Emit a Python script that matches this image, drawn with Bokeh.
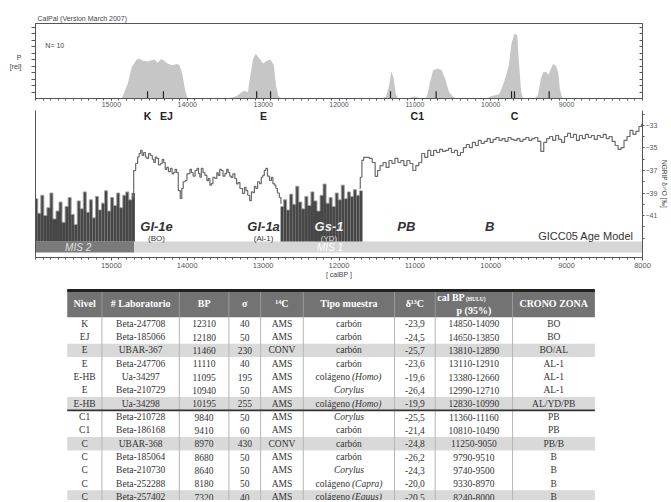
from bokeh.plotting import figure
from bokeh.models import Range1d, FixedTicker, LinearAxis
from bokeh.layouts import column
from bokeh.embed import file_html
from bokeh.resources import INLINE
from bokeh.core.properties import value

SANS = "Liberation Sans"
SERIF = "Liberation Serif"
AX = "#555555"

# ---------------- CalPal summed probability (top panel) ----------------
cal_age = [14900, 14863, 14784, 14732, 14667, 14628, 14580, 14523, 14470, 14432, 14392, 14350, 14327,
           14262, 14196, 14144, 14105, 14066, 14026, 14000, 13980,
           13460, 13350, 13255, 13200, 13170, 13130, 13098, 13060, 13000, 12950, 12905, 12860, 12830,
           12800, 12770,
           11430, 11380, 11340, 11310, 11280, 11250, 11220,
           11080, 11040, 10990, 10950, 10910,
           10880, 10840, 10800, 10760, 10700, 10650, 10600, 10550, 10500, 10460,
           10060, 9988, 9900, 9883, 9831, 9766, 9726, 9687, 9650, 9630, 9600, 9580, 9560,
           9420, 9380, 9340, 9310, 9270, 9240, 9210, 9180, 9140, 9110, 9090, 9060, 9030]
cal_p = [0.0, 0.0, 0.23, 0.48, 0.60, 0.61, 0.58, 0.57, 0.59, 0.60, 0.55, 0.60, 0.60,
         0.54, 0.51, 0.53, 0.52, 0.38, 0.12, 0.02, 0.0,
         0.0, 0.04, 0.12, 0.10, 0.35, 0.62, 0.69, 0.63, 0.54, 0.58, 0.60, 0.52, 0.20,
         0.04, 0.0,
         0.0, 0.03, 0.20, 0.41, 0.32, 0.06, 0.0,
         0.0, 0.02, 0.03, 0.01, 0.0,
         0.0, 0.03, 0.25, 0.43, 0.46, 0.44, 0.30, 0.10, 0.03, 0.0,
         0.0, 0.04, 0.06, 0.08, 0.23, 0.48, 0.85, 1.0, 0.97, 0.58, 0.12, 0.02, 0.0,
         0.0, 0.05, 0.30, 0.40, 0.41, 0.36, 0.45, 0.53, 0.50, 0.40, 0.15, 0.02, 0.0]
median_age = [14523, 14314, 13085, 12902, 11321, 10720, 9726, 9687, 9230]
level_labels = ["K", "EJ", "E", "C1", "C"]
level_age = [14523, 14275, 12994, 10968, 9687]
p_axis_ticks = [0.63, 0.49]
p_axis_labels = ["P", "[rel]"]

# ---------------- NGRIP d18O (lower panel) ----------------
gs2_d18o = [-39.5, -40.8, -39.2, -41.0, -40.3, -39.0, -41.3, -40.6, -39.8, -41.6, -40.2, -39.4,
            -40.9, -41.8, -39.7, -40.4, -38.9, -40.7, -39.6, -41.2, -39.3, -40.5, -39.9, -38.8,
            -40.6, -39.4, -40.1, -39.0, -40.3, -39.2, -38.9, -39.6, -39.0]
gs2_age = list(range(15990, 14700, -40))
yd_d18o = [-40.2, -39.6, -40.5, -39.1, -40.0, -38.4, -39.8, -40.4, -39.3, -40.1, -38.9, -39.7,
           -40.6, -39.2, -38.2, -39.9, -39.4, -40.2, -39.0, -39.6, -38.3, -39.5, -38.9, -39.3,
           -38.7, -39.2, -38.8]
yd_age = list(range(12750, 11700, -40))

gi1_age = [14719, 14693, 14667, 14641, 14628, 14601, 14588, 14562, 14540, 14523, 14497, 14471,
           14450, 14432, 14410, 14392, 14365, 14340, 14320, 14301, 14280, 14262, 14235, 14209,
           14190, 14170, 14150, 14131, 14105, 14079, 14066, 14040, 14013, 13995, 13974, 13955,
           13935, 13910, 13883, 13860, 13843, 13825, 13804, 13780, 13752, 13730, 13713, 13690,
           13673, 13650, 13621, 13600, 13582, 13560, 13543, 13515, 13490, 13470, 13451, 13430,
           13412, 13385, 13360, 13340, 13321, 13290, 13255, 13235, 13216, 13190, 13164, 13145,
           13125, 13105, 13085, 13060, 13033, 13015, 12994, 12975, 12955, 12930, 12902, 12880,
           12863, 12840, 12824, 12800, 12772, 12759]
gi1_d18o = [-39.4, -37.0, -36.38, -35.8, -35.49, -35.22, -35.67, -35.4, -35.8, -35.93, -35.5, -35.67,
            -36.0, -36.29, -35.8, -35.93, -36.5, -36.38, -36.0, -36.29, -36.9, -36.73, -37.1, -36.82,
            -37.3, -37.18, -36.9, -37.18, -38.78, -39.49, -38.6, -38.0, -37.89, -37.3, -37.27, -36.9,
            -37.18, -37.5, -37.0, -36.8, -37.27, -37.6, -36.82, -37.2, -37.44, -37.9, -37.71, -38.3,
            -38.16, -37.6, -37.71, -37.2, -37.44, -36.9, -37.0, -37.5, -37.27, -36.9, -37.18, -37.5,
            -37.62, -37.3, -37.71, -38.2, -38.07, -38.6, -39.04, -38.5, -38.78, -39.2, -39.67, -38.9,
            -38.96, -38.4, -38.6, -38.0, -38.16, -37.6, -37.44, -37.0, -36.82, -37.5, -37.89, -37.6,
            -38.16, -38.3, -38.6, -39.0, -39.4, -39.93]

ho_age = [11730, 11709, 11687, 11665, 11621, 11582, 11543, 11504, 11478, 11439, 11399, 11360,
          11321, 11282, 11243, 11203, 11164, 11125, 11086, 11046, 11007, 10968, 10929, 10890,
          10850, 10811, 10772, 10733, 10694, 10654, 10615, 10576, 10537, 10498, 10458, 10419,
          10380, 10341, 10302, 10262, 10223, 10184, 10145, 10106, 10066, 10027, 9988, 9949,
          9910, 9870, 9831, 9792, 9753, 9713, 9674, 9635, 9596, 9556, 9517, 9478, 9439, 9400,
          9360, 9321, 9282, 9243, 9204, 9164, 9125, 9086, 9047, 9008, 8968, 8929, 8890, 8851,
          8812, 8772, 8733, 8694, 8655, 8616, 8576, 8537, 8498, 8459, 8420, 8380, 8341, 8302,
          8263, 8224, 8184, 8145, 8106, 8067, 8027, 8000]
ho_d18o = [-38.6, -37.6, -36.1, -35.84, -35.84, -35.93, -36.29, -37.53, -37.0, -36.56, -36.29, -36.73,
           -36.11, -36.38, -35.93, -36.29, -36.11, -36.56, -36.11, -36.38, -37.0, -36.56, -36.29, -35.49,
           -35.84, -35.22, -35.67, -35.22, -35.4, -35.13, -35.31, -35.22, -35.04, -35.4, -35.22, -35.67,
           -35.4, -34.96, -34.69, -34.96, -34.51, -34.78, -34.33, -34.6, -34.42, -34.16, -34.51, -34.24,
           -34.07, -34.33, -34.16, -34.42, -34.07, -34.24, -34.33, -34.16, -34.42, -34.24, -34.07, -34.33,
           -34.16, -34.07, -34.42, -35.31, -34.51, -34.16, -33.98, -34.33, -33.89, -34.24, -34.51, -33.98,
           -33.71, -34.07, -33.8, -34.33, -33.89, -34.16, -33.8, -34.07, -33.89, -34.24, -33.89, -34.07,
           -33.8, -34.16, -33.98, -34.42, -34.78, -35.13, -34.96, -34.33, -33.98, -33.44, -33.8, -33.53,
           -33.09, -32.91]

mis_label = ["MIS 2", "MIS 1"]
mis_from = [16000, 14700]
mis_to = [14700, 8000]
mis_label_age = [15438, 12118]

period_label = ["GI-1e", "GI-1a", "Gs-1", "PB", "B"]
period_sub = ["(BO)", "(Al-1)", "(YD)"]
period_age = [14405, 12994, 12131, 11112, 10014]

cal_ticks_top = [15000, 14000, 13000, 12000, 11000, 10000, 9000]
cal_ticks = [15000, 14000, 13000, 12000, 11000, 10000, 9000, 8000]
d18o_ticks = [-33, -35, -37, -39, -41]

# ---------------- Table ----------------
t_nivel = ["K", "EJ", "E", "E", "E-HB", "E", "E-HB", "C1", "C1", "C", "C", "C", "C", "C"]
t_lab = ["Beta-247708", "Beta-185066", "UBAR-367", "Beta-247706", "Ua-34297", "Beta-210729",
         "Ua-34298", "Beta-210728", "Beta-186168", "UBAR-368", "Beta-185064", "Beta-210730",
         "Beta-252288", "Beta-257402"]
t_bp = ["12310", "12180", "11460", "11110", "11095", "10940", "10195", "9840", "9410", "8970",
        "8680", "8640", "8180", "7320"]
t_sigma = ["40", "50", "230", "40", "195", "50", "255", "50", "60", "430", "50", "50", "50", "40"]
t_c14 = ["AMS", "AMS", "CONV", "AMS", "AMS", "AMS", "AMS", "AMS", "AMS", "CONV", "AMS", "AMS", "AMS", "AMS"]
t_tipo = ["carbón", "carbón", "carbón", "carbón", "colágeno", "", "colágeno", "", "carbón", "carbón",
          "carbón", "", "colágeno", "colágeno"]
t_tipo_it = ["", "", "", "", "(Homo)", "Corylus", "(Homo)", "Corylus", "", "", "", "Corylus",
             "(Capra)", "(Equus)"]
t_d13c = ["-23,9", "-24,5", "-25,7", "-23,6", "-19,6", "-26,4", "-19,9", "-25,5", "-21,4", "-24,8",
          "-26,2", "-24,3", "-20,0", "-20,5"]
t_cal = ["14850-14090", "14650-13850", "13810-12890", "13110-12910", "13380-12660", "12990-12710",
         "12830-10990", "11360-11160", "10810-10490", "11250-9050", "9790-9510", "9740-9500",
         "9330-8970", "8240-8000"]
t_crono = ["BO", "BO", "BO/AL", "AL-1", "AL-1", "AL-1", "AL/YD/PB", "PB", "PB", "PB/B", "B", "B", "B", "B"]
t_shaded = [2, 6, 9, 13]
t_headers = ["Nivel", "# Laboratorio", "BP", "σ", "¹⁴C", "Tipo muestra", "δ¹³C", "", "CRONO ZONA"]

W = 671
xr = Range1d(16000, 8000)
minor_years = list(range(8000, 16001, 100))
p_minor = [0.1, 0.2, 0.3, 0.4, 0.5, 0.6, 0.7, 0.8, 0.9, 1.0, 1.1]


def style_axis(ax, size="7.5px"):
    ax.axis_line_color = AX
    ax.major_tick_line_color = AX
    ax.minor_tick_line_color = AX
    ax.major_label_text_color = "#555555"
    ax.major_label_text_font = SANS
    ax.major_label_text_font_size = size


# ===================== top panel =====================
pa = figure(width=W, height=110, x_range=xr, y_range=Range1d(0, 1.154),
            title="CalPal (Version March 2007)",
            output_backend="svg", toolbar_location=None,
            min_border_left=35, min_border_right=24, min_border_top=23, min_border_bottom=12)
pa.grid.visible = False
pa.outline_line_color = AX
pa.title.text_font = SANS
pa.title.text_font_size = "7px"
pa.title.text_font_style = "normal"
pa.title.text_color = "#444444"
pa.title.offset = 2
pa.title.standoff = 4

xa = pa.xaxis[0]
style_axis(xa, "7px")
xa.ticker = FixedTicker(ticks=cal_ticks_top, minor_ticks=minor_years)
xa.major_tick_out = 2
xa.major_tick_in = 0
xa.minor_tick_out = 2
xa.minor_tick_in = 0
xa.major_label_standoff = 1

ya = pa.yaxis[0]
style_axis(ya, "7px")
ya.major_label_text_color = "#444444"
ya.ticker = FixedTicker(ticks=p_axis_ticks, minor_ticks=p_minor)
ya.major_label_overrides = {t: l for t, l in zip(p_axis_ticks, p_axis_labels)}
ya.major_label_standoff = 10
ya.major_tick_out = 0
ya.major_tick_in = 0
ya.minor_tick_out = 4
ya.minor_tick_in = 0

ra = LinearAxis(ticker=FixedTicker(ticks=[], minor_ticks=p_minor))
style_axis(ra)
ra.major_tick_out = 0
ra.major_tick_in = 0
ra.minor_tick_out = 0
ra.minor_tick_in = 3
pa.add_layout(ra, "right")

pa.varea(x=cal_age, y1=0, y2=cal_p, fill_color="#c6c6c6")
pa.segment(x0=median_age, y0=0, x1=median_age, y1=0.11, line_color="#222222", line_width=1.2)
pa.text(x=[15870], y=[0.815], text=["N= 10"], text_font=value(SANS), text_font_size="7px",
        text_color="#444444", text_baseline="middle")

# ===================== lower panel =====================
BAND_TOP, BAND_BOT = -43.31, -44.29
pb = figure(width=W, height=172, x_range=xr, y_range=Range1d(-44.73, -31.67),
            output_backend="svg", toolbar_location=None,
            min_border_left=35, min_border_right=24, min_border_top=0, min_border_bottom=25)
pb.grid.visible = False
pb.outline_line_color = None
bx = pb.xaxis[0]
style_axis(bx)
bx.ticker = FixedTicker(ticks=cal_ticks, minor_ticks=minor_years)
bx.major_tick_out = 3
bx.major_tick_in = 0
bx.minor_tick_out = 2
bx.minor_tick_in = 0
bx.major_label_standoff = 2
bx.axis_label = "[ calBP ]"
bx.axis_label_text_font = SANS
bx.axis_label_text_font_size = "7px"
bx.axis_label_text_font_style = "normal"
bx.axis_label_text_color = "#444444"
bx.axis_label_standoff = 0
ly = pb.yaxis[0]
style_axis(ly)
ly.ticker = FixedTicker(ticks=[])
ly.major_tick_out = 0
ly.minor_tick_out = 0
ry = LinearAxis(ticker=FixedTicker(ticks=d18o_ticks, minor_ticks=[-32, -34, -36, -38, -40, -42, -43]))
style_axis(ry, "7px")
ry.major_tick_out = 2
ry.major_tick_in = 0
ry.minor_tick_out = 2
ry.minor_tick_in = 0
ry.major_label_standoff = 1
ry.axis_label = "NGRIP δ¹⁸O [‰]"
ry.axis_label_text_font = SANS
ry.axis_label_text_font_size = "6.5px"
ry.axis_label_text_font_style = "normal"
ry.axis_label_text_color = "#444444"
ry.axis_label_standoff = 1
pb.add_layout(ry, "right")

pb.quad(left=mis_from, right=mis_to, top=BAND_TOP, bottom=BAND_BOT,
        fill_color=["#7a7a7a", "#d6d6d6"], line_color=None)
pb.vbar(x=gs2_age, width=40, bottom=BAND_TOP, top=gs2_d18o, fill_color="#474747", line_color=None)
pb.vbar(x=yd_age, width=40, bottom=BAND_TOP, top=yd_d18o, fill_color="#474747", line_color=None)
pb.step(x=gs2_age, y=gs2_d18o, mode="center", line_color="#a0a0a0", line_width=0.9)
pb.step(x=yd_age, y=yd_d18o, mode="center", line_color="#a0a0a0", line_width=0.9)
pb.step(x=gi1_age, y=gi1_d18o, mode="center", line_color="#6a6a6a", line_width=1.2)
pb.step(x=ho_age, y=ho_d18o, mode="center", line_color="#6a6a6a", line_width=1.2)

pb.text(x=level_age, y=[-32.2] * len(level_age), text=level_labels, text_font=value(SANS),
        text_font_size="10.5px", text_font_style="bold", text_color="#222222",
        text_align="center", text_baseline="middle")
pb.text(x=period_age[:2] + period_age[3:], y=[-41.95] * 4,
        text=period_label[:2] + period_label[3:], text_font=value(SANS), text_font_size="13px",
        text_font_style="bold italic", text_color="#333333", text_align="center", text_baseline="middle")
pb.text(x=[period_age[2]], y=[-41.95], text=[period_label[2]], text_font=value(SANS),
        text_font_size="13px", text_font_style="bold italic", text_color="#eeeeee",
        text_align="center", text_baseline="middle")
pb.text(x=period_age[:2], y=[-43.0] * 2, text=period_sub[:2], text_font=value(SANS),
        text_font_size="8px", text_color="#333333", text_align="center", text_baseline="middle")
pb.text(x=[period_age[2]], y=[-43.0], text=[period_sub[2]], text_font=value(SANS),
        text_font_size="8px", text_color="#dddddd", text_align="center", text_baseline="middle")
pb.text(x=mis_label_age, y=[-43.85] * 2, text=mis_label, text_font=value(SANS),
        text_font_size="10px", text_font_style="italic", text_color=["#e2e2e2", "#ffffff"],
        text_align="center", text_baseline="middle")
pb.text(x=[8118], y=[-42.78], text=["GICC05 Age Model"], text_font=value(SANS),
        text_font_size="11px", text_color="#333333", text_align="right", text_baseline="middle")

# ===================== table =====================
pt = figure(width=W, height=218, x_range=Range1d(35, 647), y_range=Range1d(13.76, -2.6),
            output_backend="svg", toolbar_location=None,
            min_border_left=35, min_border_right=24, min_border_top=0, min_border_bottom=0,
            x_axis_location=None, y_axis_location=None)
pt.grid.visible = False
pt.outline_line_color = None

edges = [67, 102, 180, 230, 262, 305, 397, 438, 516, 599]
centers = [(a + b) / 2 for a, b in zip(edges[:-1], edges[1:])]
n = len(t_nivel)

pt.quad(left=[edges[0]] * len(t_shaded), right=[edges[-1]] * len(t_shaded),
        top=t_shaded, bottom=[r + 1 for r in t_shaded], fill_color="#d9d9d9", line_color=None)
pt.quad(left=[edges[0]], right=[edges[-1]], top=[-2], bottom=[0], fill_color="#737373", line_color=None)
pt.segment(x0=edges[1:-1], y0=[0] * 8, x1=edges[1:-1], y1=[n] * 8, line_color="#b5b5b5", line_width=1)
pt.segment(x0=edges[1:-1], y0=[-2] * 8, x1=edges[1:-1], y1=[0] * 8, line_color="#9a9a9a", line_width=1)
pt.segment(x0=[edges[0]], y0=[-2], x1=[edges[-1]], y1=[-2], line_color="#222222", line_width=3)
pt.segment(x0=[edges[0]], y0=[7], x1=[edges[-1]], y1=[7], line_color="#333333", line_width=1.6)

hx = [c for c, h in zip(centers, t_headers) if h]
hl = [h for h in t_headers if h]
pt.text(x=hx, y=[-1] * len(hx), text=hl, text_font=value(SERIF), text_font_size="10px",
        text_font_style="bold", text_color="#ffffff", text_align="center", text_baseline="middle")
pt.text(x=[440], y=[-1.45], text=["cal BP"], text_font=value(SERIF), text_font_size="10px",
        text_font_style="bold", text_color="#ffffff", text_align="left", text_baseline="middle")
pt.text(x=[469], y=[-1.35], text=["(HULU)"], text_font=value(SERIF), text_font_size="5.5px",
        text_font_style="bold", text_color="#ffffff", text_align="left", text_baseline="middle")
pt.text(x=[centers[7]], y=[-0.5], text=["p (95%)"], text_font=value(SERIF), text_font_size="10px",
        text_font_style="bold", text_color="#ffffff", text_align="center", text_baseline="middle")

rows_y = [i + 0.5 for i in range(n)]
for ci, col in [(0, t_nivel), (1, t_lab), (2, t_bp), (3, t_sigma), (4, t_c14), (6, t_d13c),
                (7, t_cal), (8, t_crono)]:
    pt.text(x=[centers[ci]] * n, y=rows_y, text=col, text_font=value(SERIF), text_font_size="9.5px",
            text_color="#333333", text_align="center", text_baseline="middle")

tc = centers[5]
for i in range(n):
    a, b = t_tipo[i], t_tipo_it[i]
    if a and b:
        pt.text(x=[tc + 1], y=[rows_y[i]], text=[a], text_font=value(SERIF), text_font_size="9.5px",
                text_color="#333333", text_align="right", text_baseline="middle")
        pt.text(x=[tc + 3], y=[rows_y[i]], text=[b], text_font=value(SERIF), text_font_size="9.5px",
                text_font_style="italic", text_color="#333333", text_align="left", text_baseline="middle")
    elif a:
        pt.text(x=[tc], y=[rows_y[i]], text=[a], text_font=value(SERIF), text_font_size="9.5px",
                text_color="#333333", text_align="center", text_baseline="middle")
    else:
        pt.text(x=[tc], y=[rows_y[i]], text=[b], text_font=value(SERIF), text_font_size="9.5px",
                text_font_style="italic", text_color="#333333", text_align="center", text_baseline="middle")

layout = column(pa, pb, pt)
open("out.html", "w").write(file_html(layout, INLINE))
